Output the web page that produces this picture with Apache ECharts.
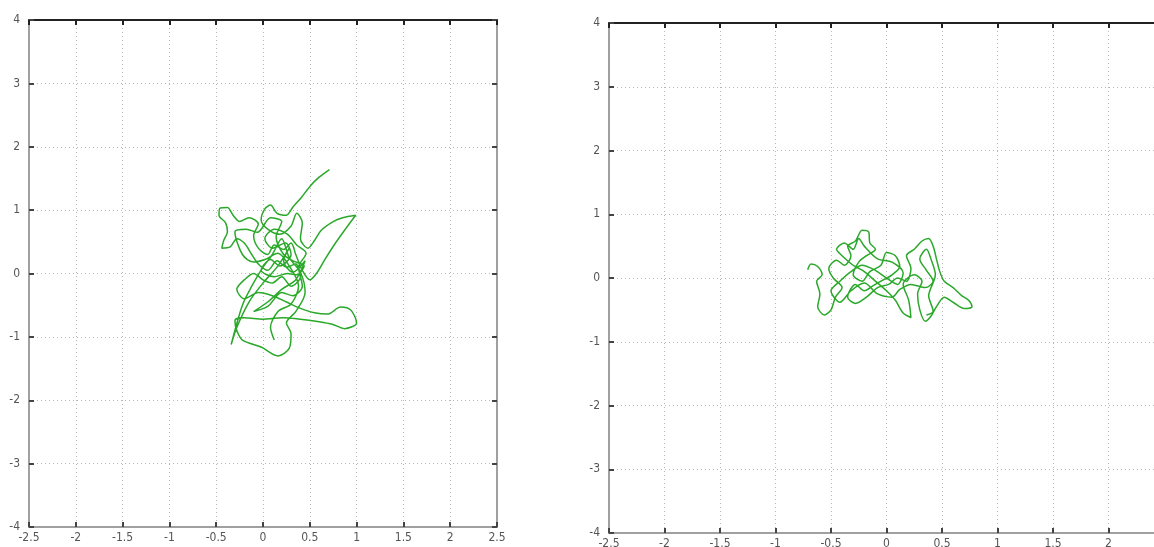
<!DOCTYPE html>
<html>
<head>
<meta charset="utf-8">
<script src="https://cdn.jsdelivr.net/npm/echarts@6/dist/echarts.min.js"></script>
<style>html,body{margin:0;padding:0;background:#fff}#c{width:1154px;height:547px}</style>
</head>
<body>
<div id="c"></div>
<script>
// Axis ranges / ticks
const xTicks = { min: -2.5, max: 2.5, interval: 0.5 };
const yTicks = { min: -4, max: 4, interval: 1 };

// Left panel trajectory (x, y)
const leftPath = [
  [0.71,1.64],[0.60,1.52],[0.51,1.39],[0.41,1.20],[0.32,1.05],[0.25,0.92],[0.15,0.95],[0.08,1.08],
  [0.02,1.02],[-0.02,0.85],[0.05,0.70],[0.18,0.62],[0.30,0.75],[0.36,0.95],[0.42,0.80],[0.40,0.55],
  [0.48,0.40],[0.55,0.52],[0.62,0.68],[0.75,0.82],[0.85,0.88],[0.99,0.92],[0.88,0.70],[0.76,0.45],
  [0.66,0.22],[0.58,0.02],[0.50,-0.10],[0.42,0.05],[0.35,0.30],[0.30,0.48],[0.22,0.38],[0.12,0.45],
  [0.05,0.30],[-0.05,0.40],[-0.10,0.60],[-0.05,0.78],[-0.15,0.88],[-0.25,0.82],[-0.32,0.92],[-0.38,1.04],
  [-0.46,1.03],[-0.47,0.92],[-0.40,0.80],[-0.38,0.66],[-0.42,0.52],[-0.44,0.40],[-0.35,0.42],[-0.28,0.55],
  [-0.20,0.48],[-0.12,0.30],[-0.05,0.15],[0.05,0.05],[0.15,0.20],[0.25,0.10],[0.35,0.15],[0.40,-0.05],
  [0.30,-0.20],[0.20,-0.05],[0.10,-0.15],[0.00,-0.10],[-0.10,0.00],[-0.20,-0.10],[-0.28,-0.25],[-0.20,-0.40],
  [-0.05,-0.30],[0.10,-0.35],[0.25,-0.45],[0.40,-0.55],[0.55,-0.62],[0.69,-0.64],[0.83,-0.53],[0.94,-0.58],
  [1.00,-0.78],[0.87,-0.87],[0.74,-0.80],[0.60,-0.76],[0.40,-0.72],[0.20,-0.70],[0.00,-0.72],[-0.20,-0.70],
  [-0.30,-0.74],[-0.28,-0.90],[-0.22,-1.05],[-0.02,-1.16],[0.16,-1.30],[0.28,-1.18],[0.30,-0.95],[0.25,-0.78],
  [0.35,-0.60],[0.45,-0.30],[0.40,0.02],[0.28,0.25],[0.20,0.55],[0.10,0.30],[0.00,0.10],[-0.12,-0.20],
  [-0.22,-0.50],[-0.34,-1.12],[-0.28,-0.85],[-0.15,-0.45],[0.00,-0.15],[0.15,0.10],[0.28,0.40],[0.22,0.20],
  [0.32,0.02],[0.45,0.20],[0.35,-0.10],[0.20,-0.25],[0.05,-0.45],[-0.10,-0.60],[0.05,-0.52],[0.20,-0.30],
  [0.32,-0.35],[0.42,-0.20],[0.38,0.10],[0.46,0.32],[0.36,0.45],[0.26,0.62],[0.12,0.70],[0.02,0.55],
  [0.10,0.40],[0.24,0.48],[0.30,0.30],[0.18,0.12],[0.08,0.22],[-0.02,0.05],[0.12,-0.05],[0.26,0.00],
  [0.36,-0.02],[0.44,0.12],[0.32,0.20],[0.22,0.30],[0.14,0.58],[0.20,0.82],[0.08,0.88],[-0.06,0.65],
  [-0.18,0.70],[-0.30,0.66],[-0.22,0.30],[-0.10,0.18],[0.02,0.22],[0.16,0.32],[0.28,0.12],[0.38,-0.20],
  [0.30,-0.48],[0.16,-0.60],[0.08,-0.85],[0.12,-1.05]
];

// Right panel trajectory (x, y)
const rightPath = [
  [-0.71,0.13],[-0.68,0.22],[-0.62,0.18],[-0.58,0.05],[-0.63,-0.05],[-0.60,-0.25],[-0.62,-0.45],[-0.56,-0.58],
  [-0.50,-0.50],[-0.46,-0.30],[-0.40,-0.15],[-0.48,0.00],[-0.52,0.15],[-0.45,0.28],[-0.38,0.20],[-0.32,0.35],
  [-0.35,0.50],[-0.28,0.58],[-0.22,0.75],[-0.16,0.72],[-0.15,0.55],[-0.10,0.45],[-0.18,0.35],[-0.25,0.25],
  [-0.30,0.05],[-0.22,-0.05],[-0.15,0.10],[-0.05,0.20],[0.00,0.40],[0.08,0.35],[0.12,0.18],[0.05,0.05],
  [-0.05,-0.05],[-0.12,-0.12],[-0.20,-0.20],[-0.28,-0.10],[-0.35,-0.30],[-0.28,-0.40],[-0.18,-0.30],[-0.08,-0.15],
  [0.02,-0.10],[0.10,0.00],[0.18,-0.05],[0.22,0.15],[0.18,0.35],[0.25,0.45],[0.32,0.58],[0.38,0.62],
  [0.42,0.50],[0.45,0.30],[0.48,0.10],[0.52,-0.05],[0.60,-0.15],[0.68,-0.28],[0.74,-0.35],[0.77,-0.45],
  [0.70,-0.48],[0.60,-0.38],[0.52,-0.30],[0.45,-0.45],[0.40,-0.60],[0.35,-0.68],[0.30,-0.50],[0.28,-0.25],
  [0.32,-0.05],[0.25,0.05],[0.15,-0.10],[0.20,-0.35],[0.22,-0.62],[0.15,-0.55],[0.08,-0.35],[0.00,-0.20],
  [-0.10,-0.05],[-0.20,0.10],[-0.30,0.20],[-0.40,0.35],[-0.45,0.45],[-0.38,0.55],[-0.30,0.45],[-0.25,0.62],
  [-0.20,0.50],[-0.08,0.30],[0.05,0.25],[0.15,0.08],[0.10,-0.10],[0.00,0.00],[-0.10,0.12],[-0.22,0.20],
  [-0.32,0.10],[-0.42,-0.05],[-0.50,-0.20],[-0.42,-0.38],[-0.32,-0.20],[-0.20,-0.08],[-0.08,-0.25],[0.05,-0.30],
  [0.12,-0.18],[0.22,-0.10],[0.35,-0.15],[0.42,-0.05],[0.36,0.12],[0.30,0.30],[0.36,0.45],[0.40,0.30],
  [0.44,0.05],[0.38,-0.28],[0.42,-0.52],[0.36,-0.58]
];

const chart = echarts.init(document.getElementById('c'));
const lblFont = { color: '#555', fontSize: 12, fontFamily: 'Liberation Sans Narrow, DejaVu Sans Condensed, sans-serif' };
const grayLine = { show: true, onZero: false, lineStyle: { color: '#a0a0a0', width: 2 } };
const blackLine = { show: true, onZero: false, lineStyle: { color: '#222', width: 2 } };
const split = { show: true, lineStyle: { color: '#b8b8b8', type: [1, 3], width: 1 } };

function xAx(grid, pos, labels) {
  return {
    type: 'value', gridIndex: grid, position: pos, min: xTicks.min, max: xTicks.max, interval: xTicks.interval,
    axisLine: pos === 'top' ? blackLine : grayLine,
    axisTick: { show: true, inside: true, length: 5, lineStyle: { color: pos === 'top' ? '#222' : '#444', width: 2 } },
    axisLabel: labels ? Object.assign({ show: true, margin: 5, showMaxLabel: true, showMinLabel: true, hideOverlap: false }, lblFont) : { show: false },
    splitLine: labels ? split : { show: false }
  };
}
function yAx(grid, pos, labels) {
  return {
    type: 'value', gridIndex: grid, position: pos, min: yTicks.min, max: yTicks.max, interval: yTicks.interval,
    axisLine: grayLine,
    axisTick: { show: true, inside: true, length: 5, lineStyle: { color: '#444', width: 2 } },
    axisLabel: labels ? Object.assign({ show: true, margin: 9 }, lblFont) : { show: false },
    splitLine: labels ? split : { show: false }
  };
}

chart.setOption({
  animation: false,
  backgroundColor: '#fff',
  grid: [
    { left: 29, top: 20, width: 468, height: 507, outerBoundsMode: 'none', containLabel: false },
    { left: 609, top: 23, width: 555, height: 510, outerBoundsMode: 'none', containLabel: false }
  ],
  xAxis: [xAx(0, 'bottom', true), xAx(0, 'top', false), xAx(1, 'bottom', true), xAx(1, 'top', false)],
  yAxis: [yAx(0, 'left', true), yAx(0, 'right', false), yAx(1, 'left', true), yAx(1, 'right', false)],
  series: [
    { type: 'line', xAxisIndex: 0, yAxisIndex: 0, data: leftPath, showSymbol: false, smooth: 0.3,
      lineStyle: { color: '#2aa82a', width: 1.5 } },
    { type: 'line', xAxisIndex: 2, yAxisIndex: 2, data: rightPath, showSymbol: false, smooth: 0.3,
      lineStyle: { color: '#2aa82a', width: 1.5 } }
  ]
});
</script>
</body>
</html>
